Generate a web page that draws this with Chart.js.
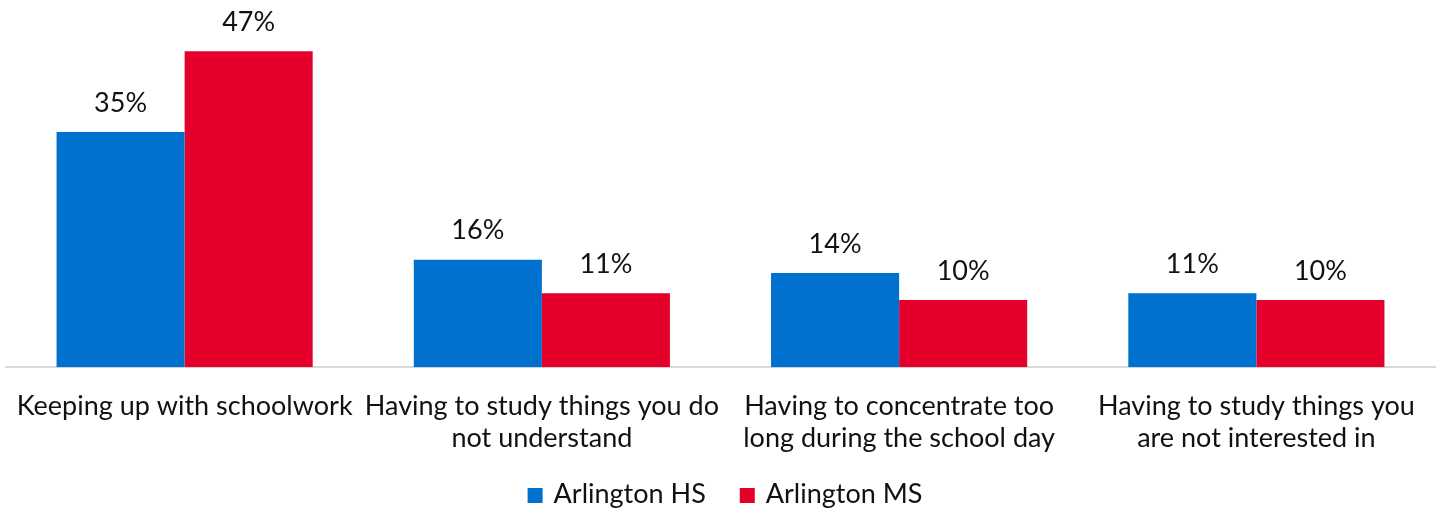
<!DOCTYPE html>
<html lang="en">
<head>
    <meta charset="UTF-8">
    <title>Stress sources</title>
    <script src="https://cdn.jsdelivr.net/npm/chart.js@4.4.1/dist/chart.umd.min.js"></script>
<style>
    html, body { margin:0; padding:0; background:#fff; }
    #board{
        width:1438px;
        height:508px;
    }
</style>
</head>
<body>
    <div id="board">
        <canvas id="chart1"></canvas>
    </div>

<script>
    const categories = [
        'Keeping up with schoolwork',
        ['Having to study things you do', 'not understand'],
        ['Having to concentrate too', 'long during the school day'],
        ['Having to study things you', 'are not interested in']
    ];
    const seriesNames = ['Arlington HS', 'Arlington MS'];
    const hsValues = [35, 16, 14, 11];
    const msValues = [47, 11, 10, 10];

    const FONT = 'Lato, "Open Sans", sans-serif';
    const FSIZE = 27;

    // value labels above each bar
    const barLabels = {
        id: 'barLabels',
        afterDatasetsDraw(chart) {
            const ctx = chart.ctx;
            ctx.save();
            ctx.font = FSIZE + 'px ' + FONT;
            ctx.fillStyle = '#111';
            ctx.textAlign = 'center';
            ctx.textBaseline = 'middle';
            chart.data.datasets.forEach((ds, i) => {
                chart.getDatasetMeta(i).data.forEach((bar, j) => {
                    ctx.fillText(ds.data[j] + '%', bar.x, bar.y - 29);
                });
            });
            ctx.restore();
        }
    };

    // legend row at the bottom, square swatch + name
    const bottomLegend = {
        id: 'bottomLegend',
        afterDraw(chart) {
            const ctx = chart.ctx;
            const box = 15, gap = 11, spacing = 34;
            const baseline = chart.height - 5;
            ctx.save();
            ctx.font = FSIZE + 'px ' + FONT;
            ctx.textBaseline = 'alphabetic';
            ctx.textAlign = 'left';
            const items = chart.data.datasets.map(ds => ({
                text: ds.label, color: ds.backgroundColor, w: ctx.measureText(ds.label).width
            }));
            let total = items.reduce((s, it) => s + box + gap + it.w, 0) + spacing * (items.length - 1);
            let x = (chart.width - total) / 2 + 6;
            items.forEach(it => {
                ctx.fillStyle = it.color;
                ctx.fillRect(x, baseline - box, box, box);
                x += box + gap;
                ctx.fillStyle = '#111';
                ctx.fillText(it.text, x, baseline);
                x += it.w + spacing;
            });
            ctx.restore();
        }
    };

    new Chart(document.getElementById('chart1'), {
        type: 'bar',
        data: {
            labels: categories,
            datasets: [{
                label: seriesNames[0],
                data: hsValues,
                backgroundColor: '#0071CE'
            }, {
                label: seriesNames[1],
                data: msValues,
                backgroundColor: '#E4002B'
            }]
        },
        options: {
            responsive: true,
            maintainAspectRatio: false,
            animation: false,
            datasets: {
                bar: { barPercentage: 1, categoryPercentage: 0.717 }
            },
            layout: { padding: { left: 6, right: 3, top: 31, bottom: 39 } },
            plugins: {
                tooltip: { enabled: false },
                legend: { display: false }
            },
            scales: {
                x: {
                    grid: { display: false },
                    border: { color: '#d9d9d9', width: 2 },
                    ticks: {
                        color: '#111',
                        maxRotation: 0,
                        autoSkip: false,
                        padding: 15,
                        font: { family: FONT, size: FSIZE, lineHeight: 1.18 }
                    }
                },
                y: {
                    display: false,
                    min: 0,
                    max: 50
                }
            }
        },
        plugins: [barLabels, bottomLegend]
    });
</script>
</body>
</html>
